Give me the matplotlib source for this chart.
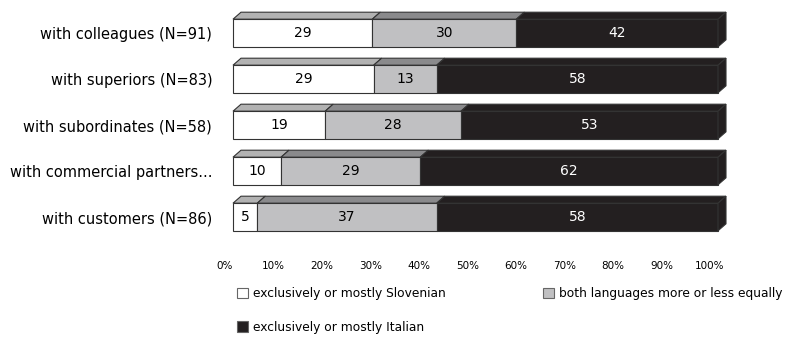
import matplotlib
matplotlib.use("Agg")
import matplotlib.pyplot as plt
from matplotlib.patches import Polygon, Patch
from matplotlib.transforms import ScaledTranslation

categories = ["with colleagues (N=91)", "with superiors (N=83)",
              "with subordinates (N=58)", "with commercial partners...",
              "with customers (N=86)"]
slovenian = [29, 29, 19, 10, 5]
both = [30, 13, 28, 29, 37]
italian = [42, 58, 53, 62, 58]
series_names = ["exclusively or mostly Slovenian",
                "both languages more or less equally",
                "exclusively or mostly Italian"]
tick_labels = ["0%", "10%", "20%", "30%", "40%", "50%",
               "60%", "70%", "80%", "90%", "100%"]

front = ["#ffffff", "#c0c0c2", "#231f20"]
top = ["#b2b2b2", "#8a8a8c", "#231f20"]
edge = "#333333"

W, H = 787, 338
fig = plt.figure(figsize=(W / 100, H / 100), dpi=100)
ax = fig.add_axes([233 / W, 98 / H, 485 / W, 230 / H])
ax.set_xlim(0, 100)
ax.set_ylim(4.5, -0.5)

bh = 0.6
dx = 8 / 4.85
dy = 7 / 46.0

for i in range(len(categories)):
    vals = [slovenian[i], both[i], italian[i]]
    tot = float(sum(vals))
    left = 0.0
    y0 = i - bh / 2
    y1 = i + bh / 2
    for j, v in enumerate(vals):
        w = v / tot * 100
        ax.add_patch(Polygon([(left, y0), (left + w, y0), (left + w + dx, y0 - dy),
                              (left + dx, y0 - dy)], closed=True, clip_on=False,
                             facecolor=top[j], edgecolor=edge, lw=0.8))
        ax.add_patch(Polygon([(left, y0), (left + w, y0), (left + w, y1), (left, y1)],
                             closed=True, clip_on=False,
                             facecolor=front[j], edgecolor=edge, lw=0.8))
        ax.text(left + w / 2, i, str(v), ha="center", va="center", fontsize=10,
                color="white" if j == 2 else "black")
        left += w
    ax.add_patch(Polygon([(left, y0), (left + dx, y0 - dy), (left + dx, y1 - dy),
                          (left, y1)], closed=True, clip_on=False, facecolor=front[2],
                         edgecolor=edge, lw=0.8))

ax.set_yticks(range(len(categories)))
ax.set_yticklabels(categories, fontsize=10.5)
ax.set_xticks(range(0, 101, 10))
ax.set_xticklabels(tick_labels, fontsize=7.5)
ax.tick_params(length=0, pad=0)
ax.tick_params(axis="y", pad=15)
ax.tick_params(axis="x", pad=15)
off = ScaledTranslation(-8 / 100, 0, fig.dpi_scale_trans)
for lbl in ax.get_xticklabels():
    lbl.set_transform(lbl.get_transform() + off)
for s in ax.spines.values():
    s.set_visible(False)

# legend fills column-wise, so reorder to get the reference's row layout
order = [0, 2, 1]
handles = [Patch(facecolor=front[k], edgecolor="#666666", lw=0.8) for k in order]
fig.legend(handles, [series_names[k] for k in order], loc="upper left",
           bbox_to_anchor=(226 / W, 1 - 276 / H),
           ncol=2, frameon=False, fontsize=8.8, handlelength=0.9, handleheight=0.9,
           handletextpad=0.4, columnspacing=8.0, labelspacing=1.7)

fig.savefig("out.png", dpi=100)
